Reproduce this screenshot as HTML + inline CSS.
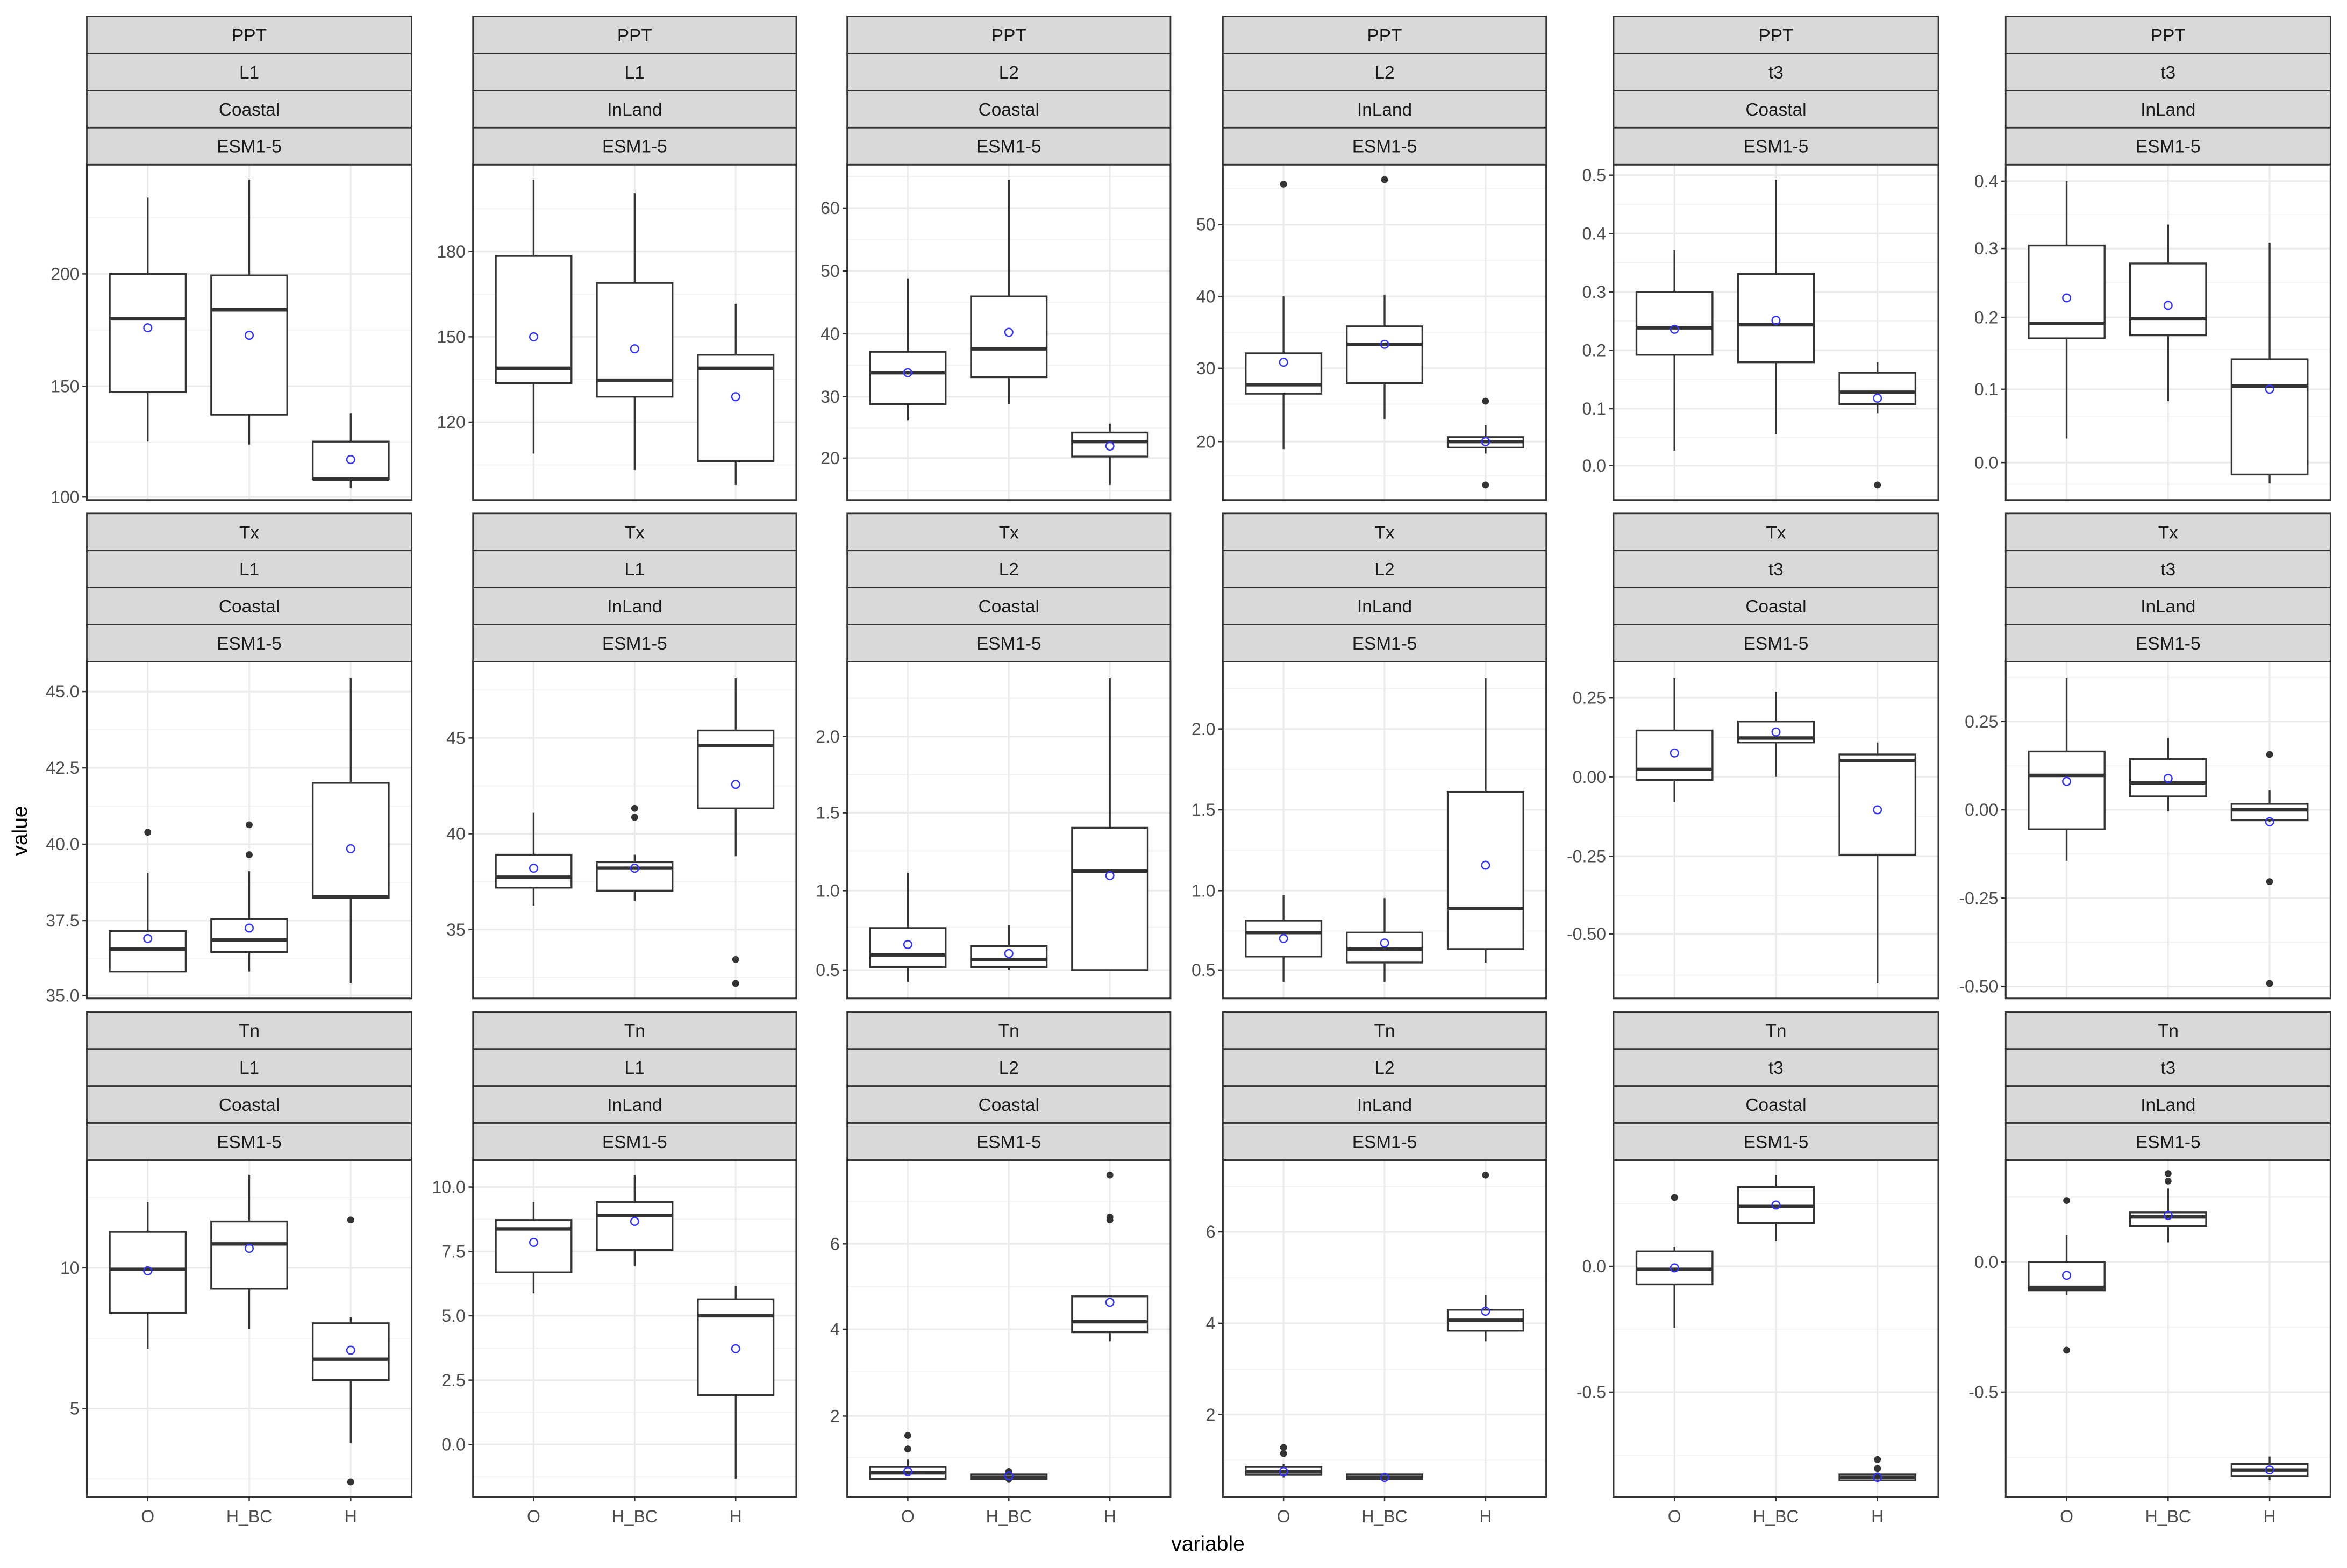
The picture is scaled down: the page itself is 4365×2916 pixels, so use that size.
<!DOCTYPE html>
<html><head><meta charset="utf-8">
<style>html,body{margin:0;padding:0;background:#fff;}svg{display:block;}</style>
</head><body>
<svg id="s" xmlns="http://www.w3.org/2000/svg" width="4365" height="2916" viewBox="0 0 1568 1047.5" font-family="Liberation Sans, Arial, sans-serif">
<rect width="1568" height="1048" fill="#fff"/>
</svg>
<script>
var S=document.getElementById('s');var NS='http://www.w3.org/2000/svg';
function el(t,a,txt){var e=document.createElementNS(NS,t);for(var k in a)e.setAttribute(k,a[k]);if(txt!==undefined)e.textContent=txt;S.appendChild(e);return e;}
var cols=[[58,275],[316,532],[566,782],[817,1033],[1078,1295],[1340,1557]];
var rows=[{s:11,p:110,b:334},{s:343,p:442,b:667},{s:676,p:775,b:1000}];
var lab=[['L1','Coastal'],['L1','InLand'],['L2','Coastal'],['L2','InLand'],['t3','Coastal'],['t3','InLand']];
var vars=['PPT','Tx','Tn'];
var P=[
[[['200',183],['150',258],['100',332]],[[132,183,213,262,295,219,[]],[120,184,207,277,297,224,[]],[276,295,320,320,326,307,[]]]],
[[['180',168],['150',225],['120',282]],[[120,171,246,256,303,225,[]],[129,189,254,265,314,233,[]],[203,237,246,308,324,265,[]]]],
[[['60',139],['50',181],['40',223],['30',265],['20',306]],[[186,235,249,270,281,249,[]],[120,198,233,252,270,222,[]],[283,289,295,305,324,298,[]]]],
[[['50',150],['40',198],['30',246],['20',295]],[[198,236,257,263,300,242,[123]],[197,218,230,256,280,230,[120]],[284,292,295,299,303,295,[268,324]]]],
[[['0.5',117],['0.4',156],['0.3',195],['0.2',234],['0.1',273],['0.0',311]],[[167,195,219,237,301,220,[]],[120,183,217,242,290,214,[]],[242,249,262,270,276,266,[324]]]],
[[['0.4',121],['0.3',166],['0.2',212],['0.1',260],['0.0',309]],[[121,164,216,226,293,199,[]],[150,176,213,224,268,204,[]],[162,240,258,317,323,260,[]]]],
[[['45.0',462],['42.5',513],['40.0',564],['37.5',615],['35.0',665]],[[583,622,634,649,649,627,[556]],[582,614,628,636,649,620,[551,571]],[453,523,599,600,657,567,[]]]],
[[['45',493],['40',557],['35',621]],[[543,571,586,593,605,580,[]],[571,576,580,595,602,580,[540,546]],[453,488,498,540,572,524,[641,657]]]],
[[['2.0',492],['1.5',543],['1.0',595],['0.5',648]],[[583,620,638,646,656,631,[]],[618,632,641,646,648,637,[]],[453,553,582,648,648,585,[]]]],
[[['2.0',487],['1.5',541],['1.0',595],['0.5',648]],[[598,615,623,639,656,627,[]],[600,623,634,643,656,630,[]],[453,529,607,634,643,578,[]]]],
[[['0.25',466],['0.00',519],['-0.25',572],['-0.50',624]],[[453,488,514,521,536,503,[]],[462,482,493,496,519,489,[]],[496,504,508,571,657,541,[]]]],
[[['0.25',482],['0.00',541],['-0.25',600],['-0.50',659]],[[453,502,518,554,575,522,[]],[493,507,523,532,542,520,[]],[528,537,541,548,549,549,[504,589,657]]]],
[[['10',847],['5',941]],[[803,823,848,877,901,849,[]],[785,816,831,861,888,834,[]],[880,884,908,922,964,902,[815,990]]]],
[[['10.0',793],['7.5',836],['5.0',879],['2.5',922],['0.0',965]],[[803,815,821,850,864,830,[]],[785,803,812,835,846,816,[]],[859,868,879,932,988,901,[]]]],
[[['6',831],['4',888],['2',946]],[[975,980,984,988,988,983,[959,968]],[985,985,987,988,988,986,[983,988]],[865,866,883,890,896,870,[785,813,815]]]],
[[['6',823],['4',884],['2',945]],[[978,980,983,985,987,983,[967,971]],[985,985,987,988,988,987,[]],[865,875,882,889,896,876,[785]]]],
[[['0.0',846],['-0.5',930]],[[833,836,848,858,887,847,[800]],[785,793,806,817,829,805,[]],[984,985,987,989,990,987,[975,981,986]]]],
[[['0.0',843],['-0.5',930]],[[825,843,860,862,865,852,[802,902]],[794,810,813,819,830,812,[784,789]],[973,978,982,986,989,982,[]]]]
];
for(var r=0;r<3;r++){for(var c=0;c<6;c++){
 var x0=cols[c][0],x1=cols[c][1],W=x1-x0,R=rows[r],d=P[r*6+c];
 var sl=[vars[r],lab[c][0],lab[c][1],'ESM1-5'],sh=(R.p-R.s)/4;
 el('rect',{x:x0,y:R.p,width:W,height:R.b-R.p,fill:'#fff'});
 var t=d[0],step=(t.length>1)?(t[1][1]-t[0][1]):60;
 var ys=t.map(function(a){return a[1];});
 for(var k=-3;k<t.length+3;k++){var y=t[0][1]+step*(k+0.5);if(y>R.p&&y<R.b)el('line',{x1:x0,x2:x1,y1:y,y2:y,stroke:'#f2f2f2','stroke-width':0.6});}
 ys.forEach(function(y){el('line',{x1:x0,x2:x1,y1:y,y2:y,stroke:'#ebebeb','stroke-width':1.1});});
 var xs=[x0+W*0.1875,x0+W*0.5,x0+W*0.8125],bw=W*0.234;
 xs.forEach(function(x){el('line',{x1:x,x2:x,y1:R.p,y2:R.b,stroke:'#ebebeb','stroke-width':1.1});});
 d[1].forEach(function(b,i){var x=xs[i];
  el('line',{x1:x,x2:x,y1:b[0],y2:b[1],stroke:'#333','stroke-width':1.2});
  el('line',{x1:x,x2:x,y1:b[3],y2:b[4],stroke:'#333','stroke-width':1.2});
  el('rect',{x:x-bw/2,y:b[1],width:bw,height:Math.max(b[3]-b[1],0.5),fill:'#fff',stroke:'#333','stroke-width':1.2});
  el('line',{x1:x-bw/2,x2:x+bw/2,y1:b[2],y2:b[2],stroke:'#333','stroke-width':2.3});
  b[6].forEach(function(o){el('circle',{cx:x,cy:o,r:2.3,fill:'#333'});});
  el('circle',{cx:x,cy:b[5],r:2.6,fill:'none',stroke:'#3333ff','stroke-width':0.9});
 });
 el('rect',{x:x0,y:R.p,width:W,height:R.b-R.p,fill:'none',stroke:'#333','stroke-width':1.1});
 t.forEach(function(a){el('line',{x1:x0-3,x2:x0,y1:a[1],y2:a[1],stroke:'#333','stroke-width':0.9});
  el('text',{x:x0-5,y:a[1]+4,'text-anchor':'end','font-size':11.5,fill:'#4d4d4d'},a[0]);});
 for(var s=0;s<4;s++){el('rect',{x:x0,y:R.s+s*sh,width:W,height:sh,fill:'#d9d9d9',stroke:'#333','stroke-width':1});
  el('text',{x:(x0+x1)/2,y:R.s+s*sh+sh/2+4.3,'text-anchor':'middle','font-size':12,fill:'#1a1a1a'},sl[s]);}
 if(r==2){var nm=['O','H_BC','H'];xs.forEach(function(x,i){el('line',{x1:x,x2:x,y1:R.b,y2:R.b+3,stroke:'#333','stroke-width':0.9});
  el('text',{x:x,y:1017,'text-anchor':'middle','font-size':11.5,fill:'#4d4d4d'},nm[i]);});}
}}
el('text',{x:807,y:1036,'text-anchor':'middle','font-size':14,fill:'#000'},'variable');
el('text',{x:18,y:555,'text-anchor':'middle','font-size':14,fill:'#000',transform:'rotate(-90 18 555)'},'value');
</script>
</body></html>
